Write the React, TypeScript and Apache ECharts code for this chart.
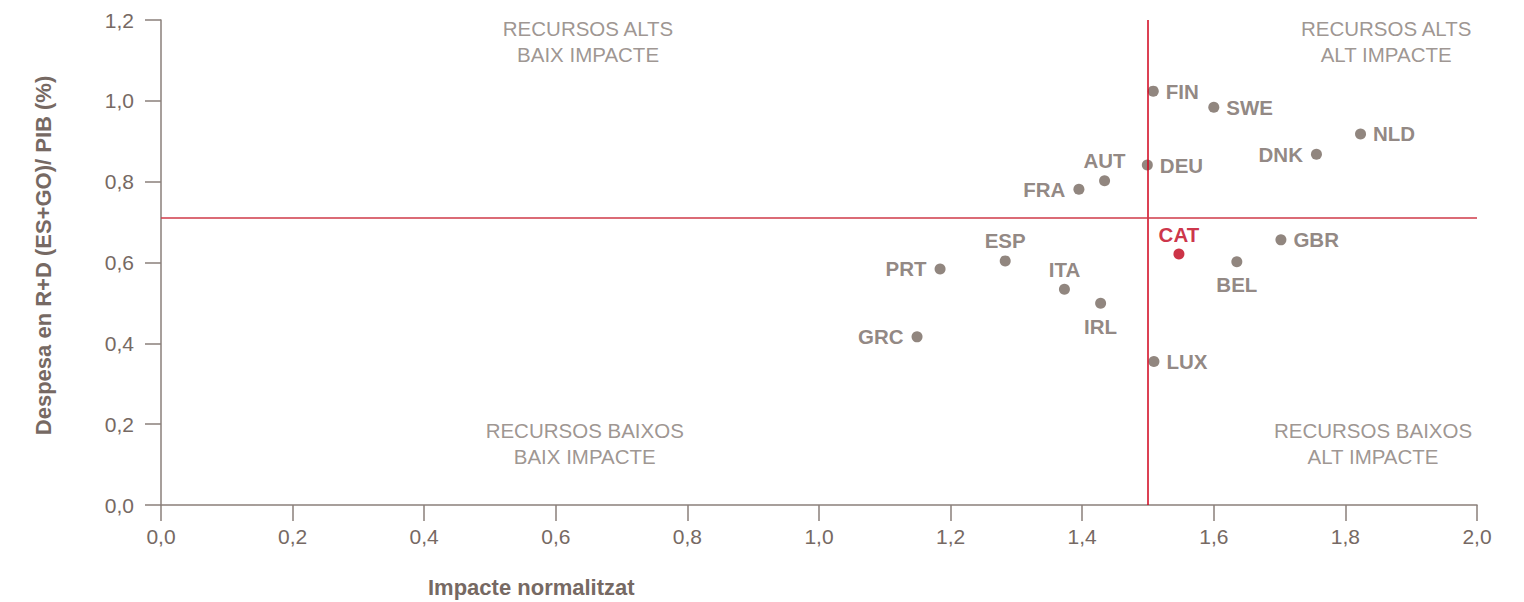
import React, { useEffect, useRef } from "react";
import * as echarts from "echarts";

// ---- data ----
const countries = ["FIN", "SWE", "NLD", "DNK", "DEU", "AUT", "FRA", "GBR", "CAT", "BEL", "ESP", "PRT", "ITA", "IRL", "GRC", "LUX"];
const impact = [1.508, 1.6, 1.823, 1.756, 1.499, 1.434, 1.395, 1.702, 1.547, 1.635, 1.283, 1.184, 1.373, 1.428, 1.149, 1.509];
const spending = [1.024, 0.984, 0.918, 0.868, 0.841, 0.802, 0.781, 0.656, 0.621, 0.602, 0.604, 0.584, 0.534, 0.499, 0.416, 0.355];
const highlighted = "CAT";

const thresholdImpact = 1.505;
const thresholdSpending = 0.708;

const quadrantNames = [
  "RECURSOS ALTS\nBAIX IMPACTE",
  "RECURSOS ALTS\nALT IMPACTE",
  "RECURSOS BAIXOS\nBAIX IMPACTE",
  "RECURSOS BAIXOS\nALT IMPACTE",
];
const quadrantX = [0.649, 1.862, 0.644, 1.842];
const quadrantY = [1.147, 1.147, 0.151, 0.151];

const xTitle = "Impacte normalitzat";
const yTitle = "Despesa en R+D (ES+GO)/ PIB (%)";

// ---- styles ----
const labelSide: Record<string, string> = {
  DNK: "left",
  FRA: "left",
  PRT: "left",
  GRC: "left",
  AUT: "top",
  CAT: "top",
  ESP: "top",
  ITA: "top",
  BEL: "bottom",
  IRL: "bottom",
};
const sideDistance: Record<string, number> = { right: 7, left: 8, top: 4, bottom: 7 };

const FONT = "'Liberation Sans', Arial, Helvetica, sans-serif";
const GREY = "#75685f";
const TEXT = "#766963";
const QUAD = "#857a75";
const AXIS = "#8a7f7a";
const RED = "#bf0019";

const fmt = (v: number) => v.toFixed(1).replace(".", ",");

export default function App() {
  const ref = useRef<HTMLDivElement>(null);
  useEffect(() => {
    document.body.style.margin = "0";
    const chart = echarts.init(ref.current!, null, { renderer: "svg" });
    const pointData = countries.map((c, i) => {
      const side = labelSide[c] || "right";
      const isHl = c === highlighted;
      return {
        name: c,
        value: [impact[i], spending[i]],
        itemStyle: { color: isHl ? RED : GREY },
        label: {
          position: side,
          distance: sideDistance[side],
          color: isHl ? RED : TEXT,
        },
      };
    });
    const quadData = quadrantNames.map((n, i) => ({ name: n, value: [quadrantX[i], quadrantY[i]] }));
    chart.setOption({
      animation: false,
      textStyle: { fontFamily: FONT },
      grid: { left: 161, right: 47, top: 20, bottom: 97 },
      xAxis: {
        type: "value",
        min: 0,
        max: 2,
        interval: 0.2,
        splitLine: { show: false },
        axisLine: { show: true, onZero: false, lineStyle: { color: AXIS, width: 1.5 } },
        axisTick: { show: true, length: 16, lineStyle: { color: AXIS, width: 1.5 } },
        axisLabel: { margin: 21, fontSize: 21, color: TEXT, fontFamily: FONT, formatter: fmt },
      },
      yAxis: {
        type: "value",
        min: 0,
        max: 1.2,
        interval: 0.2,
        splitLine: { show: false },
        axisLine: { show: true, onZero: false, lineStyle: { color: AXIS, width: 1.5 } },
        axisTick: { show: true, length: 16, lineStyle: { color: AXIS, width: 1.5 } },
        axisLabel: { margin: 27, fontSize: 21, color: TEXT, fontFamily: FONT, formatter: fmt },
        name: yTitle,
        nameLocation: "middle",
        nameGap: 107,
        nameTextStyle: { fontSize: 22, fontWeight: "bold", color: TEXT, fontFamily: FONT, padding: [0, 0, 0, 14] },
      },
      graphic: [
        {
          type: "text",
          left: 428,
          top: 576,
          style: { text: xTitle, fontSize: 22, fontWeight: "bold", fill: TEXT, fontFamily: FONT },
        },
      ],
      series: [
        {
          type: "scatter",
          silent: true,
          symbolSize: 0,
          data: quadData,
          label: {
            show: true,
            position: "inside",
            formatter: (p: any) => p.name,
            fontSize: 20.5,
            lineHeight: 26,
            align: "center",
            color: QUAD,
            fontFamily: FONT,
          },
          z: 1,
        },
        {
          type: "scatter",
          silent: true,
          symbolSize: 0,
          data: [],
          markLine: {
            silent: true,
            symbol: "none",
            label: { show: false },
            data: [
              { xAxis: thresholdImpact, lineStyle: { color: "#d0021b", width: 1.5, type: "solid" } },
              { yAxis: thresholdSpending, lineStyle: { color: "#cf3a48", width: 1.5, type: "solid" } },
            ],
          },
          z: 2,
        },
        {
          type: "scatter",
          silent: true,
          symbol: "circle",
          symbolSize: 11,
          data: pointData,
          label: {
            show: true,
            formatter: (p: any) => p.name,
            fontSize: 20.5,
            fontWeight: "bold",
            fontFamily: FONT,
          },
          z: 3,
        },
      ],
    });
    return () => chart.dispose();
  }, []);
  return <div ref={ref} style={{ width: 1524, height: 602 }} />;
}
